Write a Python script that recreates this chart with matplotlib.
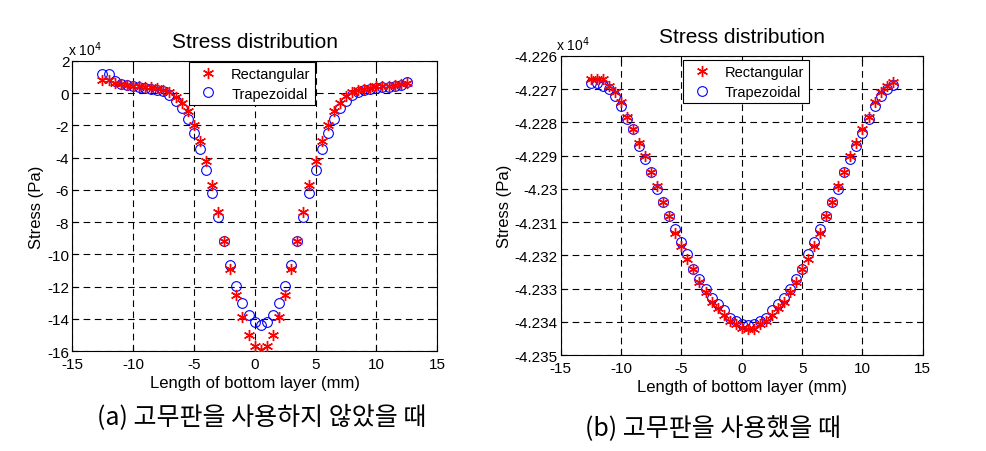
import matplotlib
matplotlib.use("Agg")
import matplotlib.pyplot as plt
import numpy as np
from matplotlib.ticker import FormatStrFormatter

plt.rcParams['font.family'] = ['Liberation Sans', 'DejaVu Sans']
plt.rcParams['axes.unicode_minus'] = False

# x positions along the bottom layer (mm)
x = np.arange(-12.5, 12.51, 0.5)

# (a) without rubber plate, stress in units of 10^4 Pa
rect_a = [0.80, 0.80, 0.65, 0.59, 0.49, 0.44, 0.42, 0.40, 0.38, 0.32, 0.22, 0.07, -0.24,
          -0.61, -1.13, -1.96, -2.98, -4.18, -5.68, -7.36, -9.18, -10.93, -12.52, -13.87,
          -14.97, -15.70, -15.95, -15.70, -14.97, -13.87, -12.52, -10.93, -9.18, -7.36,
          -5.68, -4.18, -2.98, -1.96, -1.13, -0.61, -0.20, 0.07, 0.17, 0.28, 0.32, 0.42,
          0.44, 0.44, 0.49, 0.55, 0.65]
trap_a = [1.21, 1.21, 0.73, 0.59, 0.49, 0.42, 0.38, 0.34, 0.28, 0.22, 0.11, -0.14, -0.51,
          -0.93, -1.59, -2.46, -3.46, -4.76, -6.22, -7.67, -9.20, -10.66, -11.96, -13.00,
          -13.73, -14.18, -14.35, -14.18, -13.73, -13.00, -11.96, -10.66, -9.20, -7.67,
          -6.22, -4.76, -3.46, -2.46, -1.59, -0.93, -0.51, -0.10, 0.07, 0.17, 0.24, 0.32,
          0.38, 0.38, 0.44, 0.53, 0.69]

# (b) with rubber plate, stress in units of 10^4 Pa
rect_b = [-4.22670, -4.22670, -4.22670, -4.22690, -4.22708, -4.22740, -4.22783, -4.22821,
          -4.22861, -4.22901, -4.22949, -4.22991, -4.23039, -4.23081, -4.23132, -4.23172,
          -4.23210, -4.23240, -4.23280, -4.23310, -4.23340, -4.23358, -4.23378, -4.23398,
          -4.23407, -4.23417, -4.23420, -4.23420, -4.23407, -4.23398, -4.23378, -4.23358,
          -4.23340, -4.23310, -4.23280, -4.23240, -4.23210, -4.23172, -4.23132, -4.23081,
          -4.23039, -4.22991, -4.22949, -4.22901, -4.22861, -4.22821, -4.22783, -4.22740,
          -4.22708, -4.22690, -4.22678]
trap_b = [-4.22681, -4.22681, -4.22690, -4.22698, -4.22720, -4.22752, -4.22789, -4.22821,
          -4.22871, -4.22911, -4.22949, -4.23001, -4.23039, -4.23081, -4.23120, -4.23160,
          -4.23197, -4.23240, -4.23270, -4.23300, -4.23327, -4.23347, -4.23364, -4.23387,
          -4.23397, -4.23407, -4.23410, -4.23407, -4.23397, -4.23387, -4.23364, -4.23347,
          -4.23327, -4.23300, -4.23270, -4.23240, -4.23197, -4.23160, -4.23120, -4.23081,
          -4.23039, -4.23001, -4.22949, -4.22911, -4.22871, -4.22831, -4.22791, -4.22750,
          -4.22720, -4.22698, -4.22688]

captions = ['(a) 고무판을 사용하지 않았을 때', '(b) 고무판을 사용했을 때']

fig = plt.figure(figsize=(9.87, 4.52), dpi=100)
ax1 = fig.add_axes([0.073, 0.221, 0.370, 0.642])
ax2 = fig.add_axes([0.568, 0.212, 0.367, 0.662])


def style_axes(ax, rect, trap, ylim, yticks, legend_anchor):
    ax.plot(x, rect, linestyle='none', marker=(6, 2, 0), color='red',
            markeredgecolor='red', markersize=8, markeredgewidth=1.0,
            label='Rectangular', zorder=3)
    ax.plot(x, trap, 'o', markerfacecolor='none', markeredgecolor='blue',
            markersize=7, markeredgewidth=0.8, label='Trapezoidal', zorder=2)
    ax.set_xlim(-15, 15)
    ax.set_ylim(*ylim)
    ax.set_xticks(np.arange(-15, 16, 5))
    ax.set_yticks(yticks)
    ax.yaxis.set_major_formatter(FormatStrFormatter('%g'))
    ax.grid(True, color='black', linestyle=(0, (6, 4)), linewidth=0.8)
    ax.tick_params(direction='in', length=4, labelsize=11, top=True, right=True, pad=2)
    ax.tick_params(axis='x', pad=4)
    for s in ax.spines.values():
        s.set_linewidth(0.8)
    ax.set_title('Stress distribution', fontsize=15, pad=10)
    ax.set_xlabel('Length of bottom layer (mm)', fontsize=12, labelpad=3)
    ax.set_ylabel('Stress (Pa)', fontsize=12, labelpad=2)
    ax.text(-0.012, 1.01, r'x 10$^4$', transform=ax.transAxes, fontsize=10, va='bottom')
    leg = ax.legend(loc='upper left', bbox_to_anchor=legend_anchor, fontsize=10.5,
                    fancybox=False, framealpha=1, edgecolor='black', borderpad=0.3,
                    handletextpad=0.6, labelspacing=0.4, borderaxespad=0)
    leg.get_frame().set_linewidth(0.8)


style_axes(ax1, rect_a, trap_a, (-16, 2), np.arange(-16, 3, 2), (0.32, 0.995))
style_axes(ax2, rect_b, trap_b, (-4.235, -4.226),
           np.round(np.arange(-4.235, -4.2259, 0.001), 3), (0.337, 0.985))

fig.text(0.265, 0.075, captions[0], fontsize=18, ha='center', va='center',
         family=['Noto Sans CJK KR', 'DejaVu Sans'])
fig.text(0.722, 0.052, captions[1], fontsize=18, ha='center', va='center',
         family=['Noto Sans CJK KR', 'DejaVu Sans'])

fig.savefig('out.png', dpi=100)
